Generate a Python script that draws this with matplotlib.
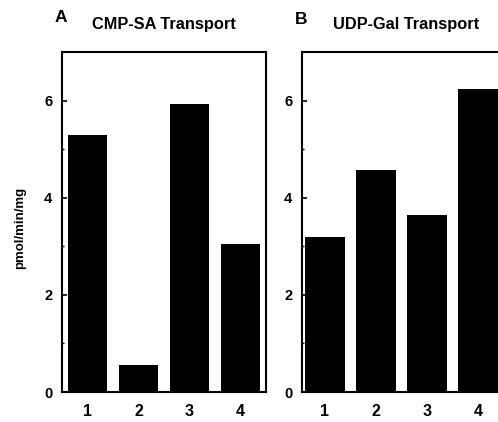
import matplotlib
matplotlib.use("Agg")
import matplotlib.pyplot as plt
from matplotlib.ticker import MultipleLocator

plt.rcParams['font.family'] = ['Liberation Sans', 'DejaVu Sans']
plt.rcParams['font.weight'] = 'bold'

categories = ["1", "2", "3", "4"]
cmp_sa = [5.3, 0.55, 5.92, 3.05]
udp_gal = [3.2, 4.57, 3.65, 6.23]
y_ticks = [0, 2, 4, 6]

fig = plt.figure(figsize=(4.98, 4.22), dpi=100)
W, H = 498, 422

def add_ax(left, right, top, bottom):
    return fig.add_axes([left / W, 1 - bottom / H, (right - left) / W, (bottom - top) / H])

axA = add_ax(62, 266, 52, 392)
axB = add_ax(302, 506, 52, 392)

x = list(range(1, len(categories) + 1))
for ax, vals, xl in [(axA, cmp_sa, (0.5, 4.5)), (axB, udp_gal, (0.55, 4.55))]:
    ax.bar(x, vals, width=0.78, color='black')
    ax.set_xlim(*xl)
    ax.set_ylim(0, 7)
    ax.set_yticks(y_ticks)
    ax.yaxis.set_minor_locator(MultipleLocator(1))
    ax.set_xticks(x)
    ax.set_xticklabels(categories, fontsize=11.5, fontweight='bold')
    ax.tick_params(axis='x', length=0, pad=8.5)
    ax.tick_params(axis='y', which='major', direction='in', length=3.5, width=1.2, labelsize=10.5, pad=7)
    ax.tick_params(axis='y', which='minor', direction='in', length=1.5, width=1.0)
    for lab in ax.get_yticklabels():
        lab.set_fontweight('bold')
    for s in ax.spines.values():
        s.set_linewidth(1.5)

fig.text(20 / W, 1 - 228 / H, "pmol/min/mg", fontsize=9.5, fontweight='bold',
         rotation=90, va='center', ha='center')

fig.text(55 / W, 1 - 17 / H, "A", fontsize=12.5, fontweight='bold', va='center', ha='left')
fig.text(92 / W, 1 - 24 / H, "CMP-SA Transport", fontsize=11.8, fontweight='bold', va='center', ha='left')
fig.text(295 / W, 1 - 19 / H, "B", fontsize=12.5, fontweight='bold', va='center', ha='left')
fig.text(333 / W, 1 - 25 / H, "UDP-Gal Transport", fontsize=11.8, fontweight='bold', va='center', ha='left')

fig.savefig("out.png", dpi=100)
